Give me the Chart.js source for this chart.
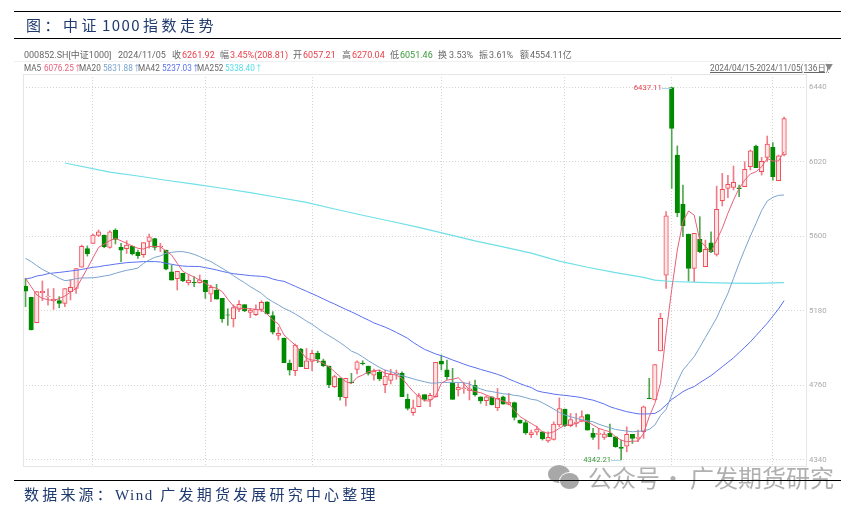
<!DOCTYPE html>
<html>
<head>
<meta charset="utf-8">
<script src="https://cdn.jsdelivr.net/npm/chart.js@4/dist/chart.umd.min.js"></script>
<style>
html, body { margin: 0; padding: 0; background: #fff; }
body { width: 864px; height: 512px; position: relative; overflow: hidden; font-family: Roboto, "Noto Sans CJK SC", sans-serif; }
#c { position: absolute; left: 0; top: 0; }
.rule { position: absolute; left: 14px; width: 827px; height: 1px; background: #000; }
.t { position: absolute; white-space: nowrap; font-size: 9px; line-height: 14px; color: #666; }
.r { color: #e8404c; } .g { color: #3a9a3a; }
#title { position: absolute; left: 26px; top: 14px; font-family: "Noto Sans CJK SC", sans-serif; font-size: 15px; line-height: 22px; letter-spacing: 3.5px; word-spacing: -5px; color: #1f3a6e; white-space: nowrap; }
#foot { position: absolute; left: 24px; top: 483px; font-family: "Noto Sans CJK SC", sans-serif; font-size: 15px; line-height: 22px; letter-spacing: 3.2px; color: #1f3a6e; white-space: nowrap; }
.wm { position: absolute; top: 460px; font-family: "Noto Sans CJK SC", sans-serif; font-size: 24px; line-height: 34px; color: #b0b0b0; white-space: nowrap; }
.bub { position: absolute; border-radius: 50%; background: #a8a8a8; }
</style>
</head>
<body>
<canvas id="c" width="864" height="512"></canvas>

<div class="rule" style="top:11px"></div>
<div class="rule" style="top:38px"></div>
<div id="title">图：中证 <span style="letter-spacing:1.5px">1000</span> 指数走势</div>

<div class="t" style="left:24px;top:48px">000852.SH[中证1000]</div>
<div class="t" style="left:118px;top:48px">2024/11/05</div>
<div class="t" style="left:172px;top:48px">收</div><div class="t r" style="left:182px;top:48px">6261.92</div>
<div class="t" style="left:220px;top:48px">幅</div><div class="t r" style="left:230px;top:48px">3.45%(208.81)</div>
<div class="t" style="left:293px;top:48px">开</div><div class="t r" style="left:303px;top:48px">6057.21</div>
<div class="t" style="left:342px;top:48px">高</div><div class="t r" style="left:352px;top:48px">6270.04</div>
<div class="t" style="left:390px;top:48px">低</div><div class="t g" style="left:400px;top:48px">6051.46</div>
<div class="t" style="left:438px;top:48px">换</div><div class="t" style="left:449px;top:48px">3.53%</div>
<div class="t" style="left:479px;top:48px">振</div><div class="t" style="left:489px;top:48px">3.61%</div>
<div class="t" style="left:520px;top:48px">额</div><div class="t" style="left:530px;top:48px">4554.11亿</div>

<div class="t" style="left:24px;top:61px;font-size:8.2px">MA5</div><div class="t" style="left:44px;top:61px;font-size:8.2px;color:#e8607a">6076.25↑</div>
<div class="t" style="left:79px;top:61px;font-size:8.2px">MA20</div><div class="t" style="left:103px;top:61px;font-size:8.2px;color:#7ba3cf">5831.88↑</div>
<div class="t" style="left:138px;top:61px;font-size:8.2px">MA42</div><div class="t" style="left:162px;top:61px;font-size:8.2px;color:#5a70f0">5237.03↑</div>
<div class="t" style="left:197px;top:61px;font-size:8.2px">MA252</div><div class="t" style="left:225px;top:61px;font-size:8.2px;color:#55dde8">5338.40↑</div>
<div class="t" style="left:710px;top:61px;font-size:8.3px;text-decoration:underline">2024/04/15-2024/11/05(136日)</div>
<div class="t" style="left:825px;top:61px;font-size:8px;color:#888">▼</div>

<div class="bub" style="left:548px;top:465px;width:22px;height:18px"></div>
<div class="bub" style="left:560px;top:473px;width:19px;height:16px;box-shadow:0 0 0 1px #fff"></div>
<div class="wm" style="left:588px">公众号</div>
<div class="wm" style="left:661px">·</div>
<div class="wm" style="left:690px">广发期货研究</div>

<div class="rule" style="top:480px"></div>
<div id="foot">数据来源：<span style="letter-spacing:1.5px;font-family:'Liberation Serif',serif">Wind</span> 广发期货发展研究中心整理</div>

<script>
const yTicks = [4340, 4760, 5180, 5600, 6020, 6440];
const gridIdx = [12, 32, 51, 74, 96, 115, 133];

const opens = [
  5319,5256,5113,5282,5260,5235,5237,5222,5288,5306,
  5425,5530,5560,5605,5607,5537,5635,5537,5530,5545,
  5509,5496,5571,5586,5539,5522,5400,5361,5391,5338,
  5340,5338,5352,5273,5297,5250,5158,5134,5188,5215,
  5171,5158,5188,5230,5153,5042,5027,4886,4843,4965,
  4854,4895,4942,4899,4869,4753,4801,4691,4779,4850,
  4886,4869,4818,4833,4764,4788,4824,4828,4683,4606,
  4640,4708,4678,4696,4897,4847,4775,4734,4741,4732,
  4760,4696,4674,4696,4634,4696,4653,4663,4565,4550,
  4482,4496,4499,4448,4456,4538,4627,4533,4546,4559,
  4595,4490,4484,4467,4490,4471,4413,4418,4484,4462,
  4499,4688,4678,4954,5381,6437,6057,5779,5612,5419,
  5584,5428,5563,5498,5800,5869,5875,5873,5879,5991,
  6108,5963,6044,6100,5912,6057.21];
const highs = [
  5363,5256,5288,5348,5303,5306,5260,5305,5357,5417,
  5550,5545,5612,5635,5607,5631,5642,5560,5575,5545,
  5522,5564,5612,5588,5560,5522,5438,5402,5391,5382,
  5372,5382,5353,5325,5329,5250,5192,5213,5237,5215,
  5194,5213,5237,5230,5175,5087,5027,4903,4993,4968,
  4968,4959,4953,4908,4869,4818,4801,4800,4828,4899,
  4899,4869,4852,4846,4846,4850,4846,4837,4711,4678,
  4715,4708,4715,4890,4931,4903,4856,4771,4775,4781,
  4790,4696,4702,4696,4743,4700,4715,4666,4565,4565,
  4509,4531,4499,4499,4555,4690,4627,4602,4602,4617,
  4598,4518,4518,4499,4542,4471,4452,4527,4484,4508,
  4644,4800,4877,5166,5738,6437.11,6108,5888,5612,5616,
  5710,5578,5625,5882,5954,5943,5995,5888,6019,6085,
  6113,6044,6164,6127,6057,6270.04];
const lows = [
  5203,5072,5113,5237,5212,5188,5197,5203,5241,5278,
  5425,5488,5560,5597,5535,5532,5556,5456,5503,5494,
  5475,5481,5532,5522,5513,5410,5353,5297,5344,5325,
  5316,5335,5250,5231,5246,5115,5098,5089,5175,5175,
  5141,5153,5175,5162,5049,5016,4888,4818,4815,4865,
  4854,4843,4888,4865,4747,4747,4677,4644,4771,4824,
  4875,4818,4790,4786,4719,4768,4794,4696,4621,4591,
  4640,4672,4640,4693,4847,4794,4681,4700,4715,4678,
  4700,4659,4646,4650,4618,4655,4650,4565,4546,4484,
  4466,4481,4452,4439,4452,4527,4527,4527,4527,4555,
  4508,4456,4401,4456,4471,4411,4342.21,4386,4433,4443,
  4462,4685,4678,4954,5306,5869,5710,5597,5347,5344,
  5507,5428,5507,5488,5770,5817,5860,5823,5879,5973,
  5986,5944,6019,5916,5912,6051.46];
const closes = [
  5291,5072,5288,5290,5263,5246,5222,5305,5312,5417,
  5543,5502,5607,5624,5541,5625,5582,5522,5550,5500,
  5490,5564,5597,5537,5545,5415,5353,5402,5350,5352,
  5337,5355,5288,5312,5246,5134,5155,5198,5216,5179,
  5184,5188,5228,5162,5059,5053,4888,4846,4987,4865,
  4899,4940,4908,4871,4762,4809,4696,4800,4775,4893,
  4882,4828,4841,4796,4813,4822,4831,4696,4631,4634,
  4702,4681,4704,4890,4880,4809,4681,4749,4747,4740,
  4706,4672,4696,4650,4687,4655,4666,4580,4548,4492,
  4494,4514,4460,4467,4542,4630,4533,4568,4553,4584,
  4508,4467,4490,4486,4471,4415,4405,4484,4462,4467,
  4640,4685,4877,5138,5714,6207,5732,5659,5419,5616,
  5513,5526,5511,5751,5864,5892,5903,5868,5976,6081,
  5986,6021,6119,5935,6053,6261.92];

const ma5 = [
  5363,5316,5269,5250,5243,5237,5250,5263,5285,5306,
  5362,5419,5478,5537,5555,5575,5588,5574,5560,5545,
  5532,5528,5541,5543,5541,5517,5494,5447,5402,5385,
  5370,5353,5335,5316,5307,5288,5245,5207,5194,5192,
  5192,5188,5184,5162,5128,5106,5044,5015,4987,4950,
  4912,4903,4899,4884,4865,4837,4809,4781,4771,4805,
  4818,4837,4843,4846,4828,4824,4818,4800,4762,4725,
  4696,4674,4672,4700,4772,4790,4794,4803,4772,4734,
  4725,4719,4706,4693,4683,4672,4659,4621,4584,4565,
  4546,4527,4499,4490,4499,4518,4537,4537,4546,4561,
  4555,4537,4518,4508,4499,4471,4452,4443,4446,4446,
  4490,4584,4659,4771,5053,5300,5522,5682,5742,5719,
  5578,5541,5513,5578,5644,5729,5804,5869,5916,5950,
  5963,5991,6038,6023,6023,6076.25];
const ma20 = [
  5475,5457,5434,5413,5397,5381,5363,5350,5353,5361,
  5365,5365,5366,5370,5376,5381,5391,5400,5408,5413,
  5421,5447,5466,5481,5489,5504,5509,5513,5513,5507,
  5498,5485,5470,5457,5438,5419,5400,5378,5357,5338,
  5316,5297,5278,5250,5231,5213,5194,5180,5162,5143,
  5122,5104,5081,5059,5040,5021,5000,4978,4953,4940,
  4921,4899,4880,4861,4846,4838,4825,4815,4806,4797,
  4788,4781,4773,4773,4777,4777,4777,4777,4775,4768,
  4753,4740,4730,4725,4719,4713,4710,4704,4700,4691,
  4682,4677,4662,4645,4627,4608,4593,4584,4574,4567,
  4561,4555,4542,4531,4522,4512,4507,4503,4499,4501,
  4505,4512,4537,4590,4625,4706,4781,4846,4884,4922,
  4975,5030,5085,5140,5210,5278,5363,5447,5526,5601,
  5672,5744,5798,5819,5830,5831.88];
const ma42 = [
  5359,5365,5376,5381,5389,5393,5396,5400,5404,5408,
  5413,5419,5425,5428,5434,5438,5443,5447,5451,5453,
  5455,5457,5457,5457,5455,5447,5442,5436,5432,5430,
  5430,5429,5423,5417,5410,5402,5395,5389,5385,5382,
  5378,5376,5374,5370,5359,5351,5346,5332,5318,5304,
  5290,5276,5262,5247,5232,5218,5203,5188,5174,5159,
  5143,5128,5112,5100,5088,5074,5058,5042,5025,5002,
  4982,4963,4950,4937,4927,4916,4903,4892,4880,4869,
  4860,4850,4841,4832,4822,4811,4796,4783,4770,4758,
  4748,4730,4722,4717,4711,4707,4704,4700,4696,4691,
  4683,4677,4666,4655,4640,4630,4621,4612,4606,4600,
  4599,4600,4602,4621,4650,4681,4702,4725,4741,4753,
  4775,4795,4815,4840,4865,4890,4915,4945,4975,5005,
  5040,5075,5110,5150,5190,5237.03];
// MA252 read at every 5th day or so, it is nearly straight
const ma252Idx = [7,15,20,25,30,35,40,45,50,55,60,65,70,75,80,85,90,95,100,105,110,112,115,120,125,130,135];
const ma252 = [6012,5961,5939,5915,5893,5870,5845,5818,5790,5753,5718,5684,5650,5612,5574,5540,5505,5460,5425,5395,5368,5353,5345,5340,5336,5334,5338.4];

const peakIdx = 115, troughIdx = 106;

const isUp = i => closes[i] >= opens[i];
const wickData = closes.map((_, i) => ({ x: i, y: [lows[i], highs[i]] }));
const bodyData = closes.map((_, i) => ({ x: i, y: [opens[i], closes[i]] }));
const lineData = arr => arr.map((v, i) => ({ x: i, y: v }));

const maLine = (label, data, color, width) => ({
  type: 'line', label, data, borderColor: color, borderWidth: width,
  pointRadius: 0, tension: 0, order: 1
});

// labels on the two extreme candles + light frame round the plot
const extras = {
  id: 'extras',
  afterDatasetsDraw(chart) {
    const { ctx, chartArea: a, scales: { x, y } } = chart;
    ctx.save();
    ctx.strokeStyle = '#e6e6e6';
    ctx.lineWidth = 1;
    ctx.strokeRect(a.left + 0.5, a.top + 0.5, a.right - a.left, a.bottom - a.top);
    ctx.beginPath(); ctx.moveTo(14, 61.5); ctx.lineTo(832, 61.5); ctx.strokeStyle = '#f0f0f0'; ctx.stroke();

    ctx.font = '7.7px Roboto, sans-serif';
    ctx.textBaseline = 'middle';
    ctx.textAlign = 'right';
    const px = x.getPixelForValue(peakIdx), py = Math.round(y.getPixelForValue(highs[peakIdx])) + 0.5;
    ctx.strokeStyle = '#a8d8e8';
    ctx.beginPath(); ctx.moveTo(px - 10, py); ctx.lineTo(px, py); ctx.stroke();
    ctx.fillStyle = '#e8404c';
    ctx.fillText(highs[peakIdx].toFixed(2), px - 10, py);

    const tx = x.getPixelForValue(troughIdx), ty = Math.round(y.getPixelForValue(lows[troughIdx])) + 0.5;
    ctx.beginPath(); ctx.moveTo(tx - 10, ty); ctx.lineTo(tx, ty); ctx.stroke();
    ctx.fillStyle = '#3a9a3a';
    ctx.fillText(lows[troughIdx].toFixed(2), tx - 10, ty);
    ctx.restore();
  }
};

new Chart(document.getElementById('c').getContext('2d'), {
  data: {
    datasets: [
      {
        type: 'bar', label: 'wick', data: wickData, grouped: false, order: 4,
        barThickness: 1, borderWidth: 0,
        backgroundColor: ctx => isUp(ctx.dataIndex) ? '#f07c88' : '#4fa84f'
      },
      {
        type: 'bar', label: 'body', data: bodyData, grouped: false, order: 3,
        barThickness: 4.5, borderWidth: 1, borderSkipped: false,
        borderColor: ctx => isUp(ctx.dataIndex) ? '#f04c58' : '#008a00',
        backgroundColor: ctx => isUp(ctx.dataIndex) ? '#ffe6e6' : '#008a00'
      },
      maLine('MA5', lineData(ma5), '#e8607a', 1),
      maLine('MA20', lineData(ma20), '#7ba3cf', 1),
      maLine('MA42', lineData(ma42), '#5a70f0', 1),
      maLine('MA252', ma252.map((v, i) => ({ x: ma252Idx[i], y: v })), '#6fe0e8', 1.2)
    ]
  },
  options: {
    responsive: false,
    animation: false,
    layout: { padding: { left: 23, top: 74, bottom: 46, right: 0 } },
    plugins: { legend: { display: false }, tooltip: { enabled: false } },
    scales: {
      x: {
        type: 'linear', min: -0.45, max: 138.9, offset: false,
        afterBuildTicks: s => { s.ticks = gridIdx.map(v => ({ value: v })); },
        afterFit: s => { s.height = 0; },
        ticks: { display: false },
        grid: { color: '#d4d4d4', drawTicks: false, offset: false },
        border: { display: false, dash: [1, 2] }
      },
      y: {
        position: 'right', min: 4306.2, max: 6513.2,
        afterBuildTicks: s => { s.ticks = yTicks.map(v => ({ value: v })); },
        afterFit: s => { s.width = 58; },
        ticks: { autoSkip: false, color: '#aaaaaa', font: { size: 7.8, family: 'Roboto, sans-serif' }, padding: 3, callback: v => String(v) },
        grid: { color: '#d4d4d4', drawTicks: false },
        border: { display: false, dash: [1, 2] }
      }
    }
  },
  plugins: [extras]
});
</script>
</body>
</html>
